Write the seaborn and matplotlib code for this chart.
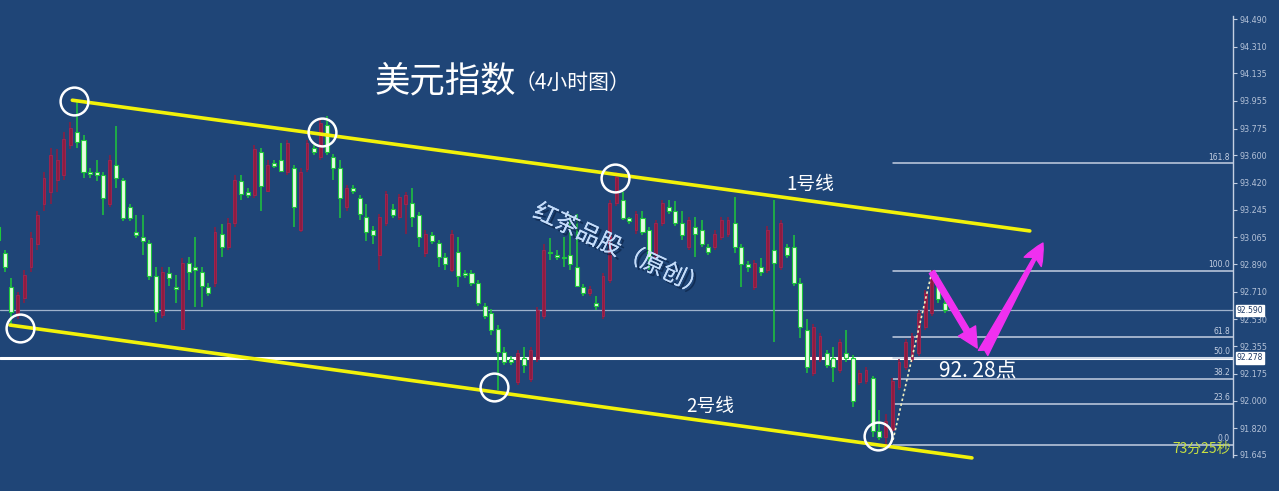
import numpy as np
import pandas as pd
import matplotlib
matplotlib.use("Agg")
import matplotlib.pyplot as plt
import matplotlib.patheffects as pe
import matplotlib.transforms as mtrans
import seaborn as sns

# ---------------- data ----------------
opens = [93.13,92.96,92.74,92.56,92.67,92.87,93.02,93.28,93.36,93.44,93.47,93.67,93.75,93.70,93.49,93.49,93.47,93.28,93.54,93.44,
         93.26,93.10,93.07,93.03,92.81,92.56,92.83,92.74,92.47,92.90,92.87,92.84,92.74,92.77,93.09,93.00,93.16,93.43,93.36,93.34,
         93.62,93.37,93.55,93.57,93.49,93.52,93.11,93.51,93.65,93.59,93.80,93.59,93.52,93.26,93.39,93.32,93.20,93.11,92.95,93.16,
         93.25,93.20,93.28,93.29,93.21,92.96,93.08,93.03,92.94,92.85,92.97,92.83,92.83,92.77,92.62,92.57,92.47,92.32,92.27,92.12,
         92.28,92.14,92.27,92.55,92.97,92.95,92.94,92.95,92.87,92.74,92.70,92.64,92.55,92.79,93.29,93.31,93.19,93.11,93.19,93.11,
         92.94,93.16,93.26,93.24,93.16,93.00,93.13,93.11,93.00,93.00,93.07,93.09,93.16,93.00,92.89,92.74,92.87,92.85,92.98,92.87,
         93.00,93.00,92.77,92.46,92.18,92.27,92.31,92.28,92.20,92.31,92.28,92.12,92.13,92.15,91.80,91.76,91.81,92.09,92.22,92.27,
         92.31,92.48,92.57,92.74,92.64]
closes = [93.05,92.87,92.58,92.69,92.82,93.06,93.21,93.45,93.60,93.57,93.71,93.78,93.69,93.49,93.48,93.47,93.32,93.57,93.45,93.19,
          93.19,93.08,93.04,92.81,92.58,92.84,92.80,92.73,92.90,92.84,92.85,92.75,92.70,93.10,93.00,93.16,93.44,93.35,93.34,93.64,
          93.40,93.54,93.53,93.50,93.68,93.26,93.49,93.68,93.62,93.81,93.62,93.52,93.32,93.39,93.37,93.22,93.10,93.08,93.20,93.35,
          93.21,93.33,93.34,93.20,93.07,93.09,93.04,92.94,92.89,93.09,92.81,92.82,92.77,92.64,92.55,92.46,92.32,92.25,92.25,92.31,
          92.23,92.33,92.59,92.98,92.96,92.94,92.93,92.89,92.75,92.70,92.73,92.62,92.81,93.29,93.46,93.19,93.17,93.22,93.10,92.94,
          93.16,93.29,93.24,93.16,93.08,93.18,93.09,93.02,92.97,93.09,93.18,93.18,93.00,92.89,92.87,92.90,92.84,93.11,92.90,93.16,
          92.95,92.77,92.48,92.22,92.48,92.42,92.23,92.22,92.38,92.28,92.00,92.18,92.20,91.80,91.76,91.87,92.13,92.25,92.38,92.42,
          92.57,92.70,92.84,92.66,92.59]
highs = [93.29,92.98,92.80,92.71,92.85,93.10,93.24,93.49,93.65,93.64,93.75,93.82,93.96,93.73,93.52,93.57,93.49,93.60,93.79,93.45,
         93.28,93.21,93.21,93.05,92.87,92.87,92.87,92.82,92.93,92.94,93.07,92.87,92.77,93.13,93.15,93.19,93.47,93.47,93.39,93.67,
         93.65,93.57,93.57,93.68,93.70,93.54,93.52,93.70,93.67,93.84,93.86,93.61,93.57,93.41,93.41,93.34,93.28,93.14,93.22,93.37,
         93.28,93.35,93.36,93.39,93.23,93.11,93.10,93.05,92.96,93.11,93.07,92.85,92.85,92.79,92.64,92.60,92.49,92.35,92.29,92.33,
         92.35,92.35,92.61,93.02,93.06,92.98,93.07,93.22,93.22,92.76,92.75,92.68,92.83,93.31,93.49,93.36,93.20,93.24,93.24,93.13,
         93.18,93.31,93.31,93.30,93.24,93.20,93.20,93.18,93.02,93.11,93.20,93.20,93.33,93.02,92.91,92.92,92.93,93.14,93.31,93.18,
         93.02,93.08,92.80,92.53,92.50,92.44,92.33,92.35,92.40,92.46,92.30,92.20,92.22,92.16,91.94,91.91,92.15,92.27,92.40,92.44,
         92.59,92.72,92.85,92.82,92.67]
lows = [92.90,92.84,92.49,92.53,92.64,92.84,92.98,93.24,93.28,93.36,93.44,93.64,93.65,93.45,93.45,93.43,93.21,93.26,93.39,93.17,
        93.17,93.06,92.95,92.79,92.51,92.54,92.75,92.64,92.46,92.72,92.61,92.61,92.68,92.74,92.94,92.98,93.13,93.31,93.32,93.32,
        93.24,93.36,93.52,93.49,93.47,93.13,93.10,93.49,93.60,93.57,93.60,93.44,93.19,93.24,93.35,93.18,93.04,93.02,92.85,93.14,
        93.19,93.18,93.09,93.13,93.00,92.94,93.02,92.87,92.85,92.84,92.74,92.80,92.75,92.62,92.53,92.43,92.07,92.23,92.23,92.10,
        92.18,92.12,92.25,92.53,92.92,92.92,92.87,92.85,92.74,92.68,92.68,92.59,92.53,92.77,93.27,93.18,93.15,93.09,93.08,92.85,
        92.92,93.14,93.22,93.14,93.05,92.98,92.94,93.00,92.95,92.98,93.05,93.07,92.96,92.74,92.84,92.72,92.81,92.83,92.38,92.85,
        92.93,92.75,92.41,92.18,92.16,92.25,92.21,92.12,92.18,92.25,91.96,92.10,92.11,91.76,91.74,91.71,91.79,92.07,92.20,92.25,
        92.29,92.46,92.55,92.64,92.57]

y_ticks = [94.490, 94.310, 94.135, 93.955, 93.775, 93.600, 93.420, 93.245, 93.065,
           92.890, 92.710, 92.530, 92.355, 92.175, 92.000, 91.820, 91.645]

# channel lines (bar index, price)
line1_idx = [11.3, 156.9]
line1_px = [93.96, 93.107]
line2_idx = [1.8, 148.1]
line2_px = [92.493, 91.626]
# circled turning points
circle_idx = [11.5, 49.3, 93.8, 3.35, 75.4, 133.8]
circle_px = [93.955, 93.753, 93.453, 92.474, 92.089, 91.769]
# fibonacci swing
fib_low = 91.71
fib_high = 92.846
fib_ratios = [1.618, 1.0, 0.618, 0.5, 0.382, 0.236, 0.0]
fib_labels = ["161.8", "100.0", "61.8", "50.0", "38.2", "23.6", "0.0"]
fib_start_idx = 136.1
swing_idx = [136.1, 142.0]
swing_px = [91.743, 92.839]
# projected path arrows
arrow1 = [(142.0, 92.839), (148.9, 92.343)]
arrow2 = [(149.8, 92.311), (158.9, 93.028)]
current_price = 92.590
key_level = 92.278

# ---------------- style ----------------
BG = "#1f4577"
sns.set_theme(style="dark")
plt.rcParams["font.family"] = ["Noto Sans CJK SC", "DejaVu Sans"]

fig = plt.figure(figsize=(12.79, 4.91), dpi=100)
fig.patch.set_facecolor(BG)
ax = fig.add_axes([0, 0, 1233 / 1279, 1])
ax.set_facecolor(BG)

n = len(opens)
df = pd.DataFrame({"i": np.arange(n), "o": opens, "c": closes, "h": highs, "l": lows})
up = df[df.c >= df.o]
dn = df[df.c < df.o]

RED = "#8e1c40"
GREEN = "#1ec83a"
ax.vlines(up.i, up.l, up.h, color=RED, lw=1.1, zorder=3)
ax.bar(up.i, up.c - up.o, bottom=up.o, width=0.42, color=RED, edgecolor="#a52450", lw=0.6, zorder=3)
ax.vlines(dn.i, dn.l, dn.h, color=GREEN, lw=1.1, zorder=3)
ax.bar(dn.i, (dn.o - dn.c).clip(lower=0.006), bottom=dn.c, width=0.62, color="#e4fde0",
       edgecolor=GREEN, lw=0.8, zorder=4)

# horizontal lines
ax.axhline(current_price, color="#9fb2cc", lw=0.9, zorder=2)
ax.axhline(key_level, color="white", lw=2.2, zorder=2)

# fibonacci levels
bt = mtrans.blended_transform_factory(ax.transAxes, ax.transData)
for r, lab in zip(fib_ratios, fib_labels):
    lvl = fib_low + r * (fib_high - fib_low)
    ax.plot([fib_start_idx, 190], [lvl, lvl], color="#c4cfe2", lw=1.1, zorder=2)
    ax.text(0.9975, lvl + 0.012, lab, transform=bt,
            ha="right", va="bottom", fontsize=5.5, color="#c4cfe2", family="DejaVu Sans")

# channel lines
sns.lineplot(x=line1_idx, y=line1_px, ax=ax, color="#f2f20a", lw=2.6, zorder=5)
sns.lineplot(x=line2_idx, y=line2_px, ax=ax, color="#f2f20a", lw=2.6, zorder=5)

# swing dotted line
sns.lineplot(x=swing_idx, y=swing_px, ax=ax, color="#f0f0c0", lw=1.2, linestyle=(0, (1.5, 1.5)), zorder=6)

# circles
ax.plot(circle_idx, circle_px, linestyle="none", marker="o", markersize=20, markerfacecolor="none",
        markeredgecolor="white", markeredgewidth=1.8, zorder=7)

# arrows
MAG = "#f030f0"
ax.annotate("", xy=arrow1[1], xytext=arrow1[0],
            arrowprops=dict(arrowstyle="simple,head_width=1.3,head_length=1.3,tail_width=0.38",
                            color=MAG, mutation_scale=11, shrinkA=0, shrinkB=0), zorder=8)
ax.annotate("", xy=arrow2[1], xytext=arrow2[0],
            arrowprops=dict(arrowstyle="fancy,head_width=1.0,head_length=1.1,tail_width=0.55",
                            color=MAG, mutation_scale=14, shrinkA=0, shrinkB=0), zorder=8)

# texts
ax.text(57.3, 94.08, "美元指数", fontsize=25.5, color="white", ha="left", va="center", zorder=9)
ax.text(78.6, 94.075, "（4小时图）", fontsize=15, color="white", ha="left", va="center", zorder=9)
ax.text(123.5, 93.41, "1号线", fontsize=13.5, color="white", ha="center", va="center", zorder=9)
ax.text(108.3, 91.96, "2号线", fontsize=13.5, color="white", ha="center", va="center", zorder=9)
ax.text(149.0, 92.19, "92. 28点", fontsize=15, color="white", ha="center", va="center", zorder=9)
ax.text(94.6, 92.98, "红茶品股（原创）", fontsize=17, color="#c4dcfa", ha="center", va="center",
        rotation=-25, zorder=9,
        path_effects=[pe.withSimplePatchShadow(offset=(2, -2), shadow_rgbFace="#0c2448", alpha=0.7), pe.Normal()])
ax.text(0.9985, 91.688, "73分25秒", transform=bt,
        ha="right", va="center", fontsize=10, color="#c8e040", zorder=9)

# price boxes
for v in [current_price, key_level]:
    ax.text(1.003, v, f"{v:.3f}", transform=bt, ha="left", va="center", fontsize=5.5, color="#1f3a66",
            family="DejaVu Sans", clip_on=False,
            bbox=dict(boxstyle="square,pad=0.15", fc="white", ec="white"), zorder=10)

# axes
ax.set_xlim(0.3, 187.8)
ax.set_ylim(91.410, 94.614)
ax.set_xticks([])
ax.yaxis.tick_right()
ax.set_yticks(y_ticks)
ax.set_yticklabels([f"{t:.3f}" for t in y_ticks], fontsize=5.8, color="#b4c2d8", family="DejaVu Sans")
ax.tick_params(axis="y", right=True, length=3, width=0.8, color="#c4cfe2", pad=2)
ax.grid(False)
for s in ["top", "left", "bottom"]:
    ax.spines[s].set_visible(False)
ax.spines["right"].set_visible(True)
ax.spines["right"].set_color("#c4cfe2")
ax.spines["right"].set_linewidth(1.0)
ax.spines["right"].set_bounds(91.63, 94.51)
ax.set_xlabel("")
ax.set_ylabel("")
leg = ax.get_legend()
if leg:
    leg.remove()

fig.savefig("out.png", dpi=100, facecolor=BG)
